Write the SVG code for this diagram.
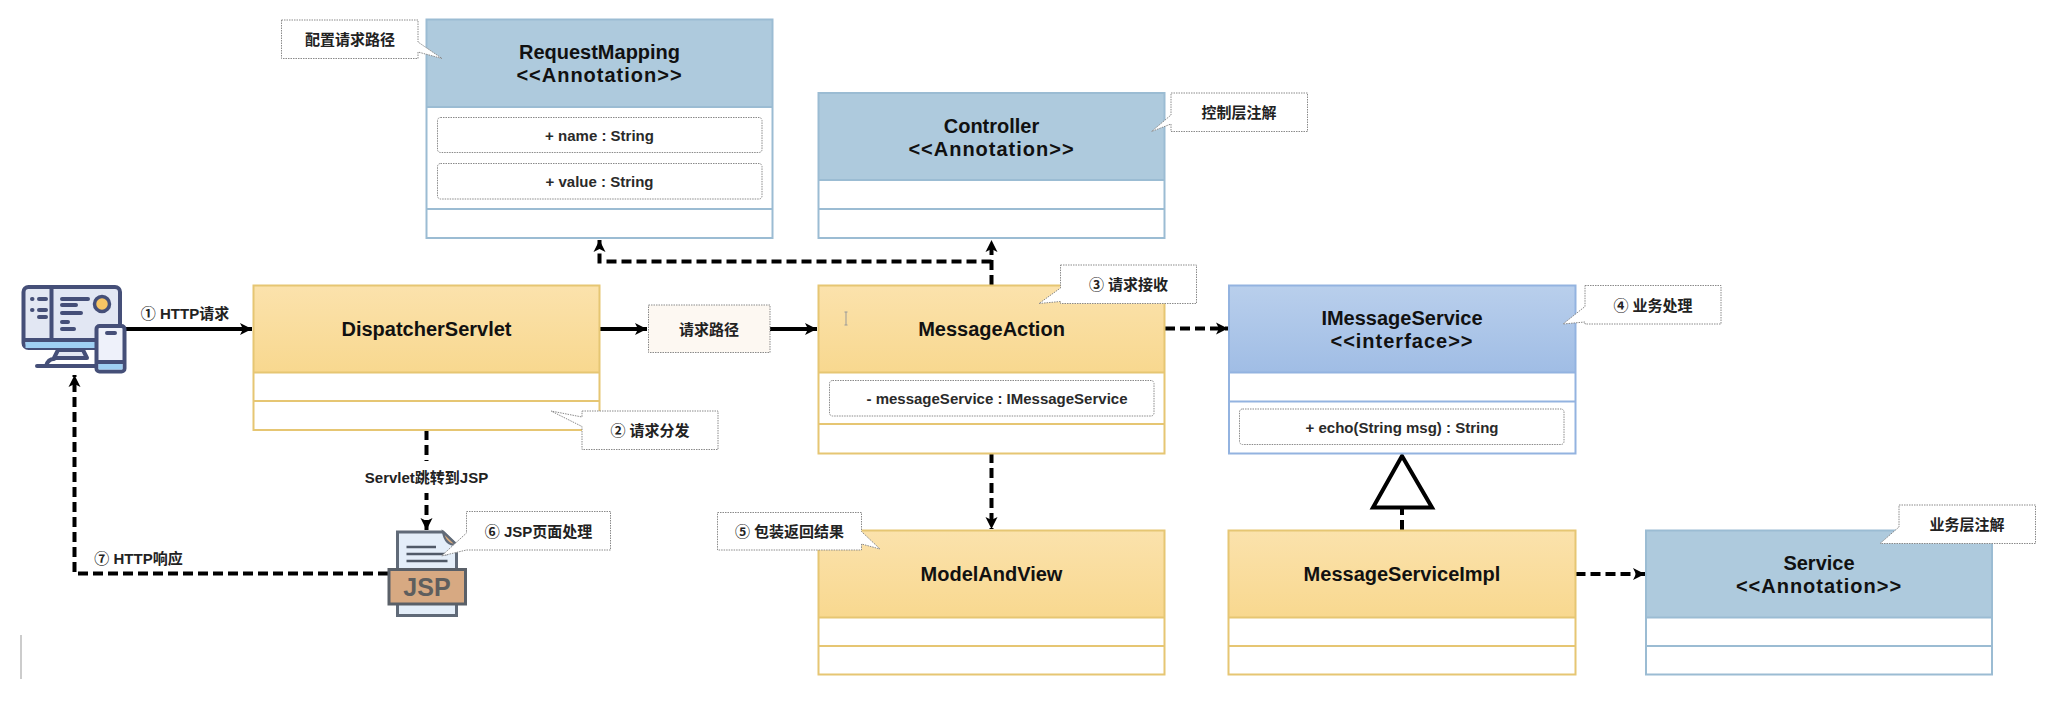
<svg xmlns="http://www.w3.org/2000/svg" width="2054" height="720" viewBox="0 0 2054 720">
<style>
text{font-family:"Liberation Sans","Noto Sans CJK SC",sans-serif;fill:#111;text-anchor:middle;dominant-baseline:central}
.title{font-size:20px;font-weight:700}
.st{letter-spacing:1px}
.attr{font-size:15px;font-weight:700;fill:#2a2a2a}
.lbl{font-size:15px;font-weight:700;fill:#222}
.body{fill:#fff}
.o{stroke:#e6c673}.b{stroke:#9bbcd3}.i{stroke:#93b3e0}
.box{stroke-width:2;fill:none}
.row{fill:#fff;stroke:#8a8a8a;stroke-width:1;stroke-dasharray:1.500 1}
.note{fill:#fff;stroke:#8a8a8a;stroke-width:1;stroke-dasharray:1.500 1}
.c{fill:none;stroke:#000;stroke-width:4}
.d{stroke-dasharray:10 5}
.ic{stroke:#454f78;stroke-width:4;stroke-linecap:round;stroke-linejoin:round}
.ln{fill:none;stroke:#454f78;stroke-width:4;stroke-linecap:round}
</style>
<defs>
<linearGradient id="go" x1="0" y1="0" x2="0" y2="1"><stop offset="0" stop-color="#fbe2ac"/><stop offset="1" stop-color="#f8d88f"/></linearGradient>
<linearGradient id="gi" x1="0" y1="0" x2="0" y2="1"><stop offset="0" stop-color="#b9cfec"/><stop offset="1" stop-color="#a0bde5"/></linearGradient>
<marker id="a" markerUnits="userSpaceOnUse" markerWidth="14" markerHeight="14" refX="12" refY="7" orient="auto"><path d="M0 1L12 7L0 13L3 7Z" fill="#000"/></marker>
</defs>
<rect width="2054" height="720" fill="#fff"/>
<g id="connectors">
<path class="c" d="M125 329H252" marker-end="url(#a)"/>
<path class="c" d="M600 329H647" marker-end="url(#a)"/>
<path class="c" d="M770 329H817" marker-end="url(#a)"/>
<path class="c d" d="M991.500 285V240" marker-end="url(#a)"/>
<path class="c d" d="M991.500 261.500H599.500V240" marker-end="url(#a)"/>
<path class="c d" d="M1165 328.500H1228" marker-end="url(#a)"/>
<path class="c d" d="M991.500 453V529" marker-end="url(#a)"/>
<path class="c d" d="M1402 530V508"/>
<path class="c d" d="M1575.500 574H1645" marker-end="url(#a)"/>
<path class="c d" d="M426.500 430V530" marker-end="url(#a)"/>
<path class="c d" d="M388 573.500H74.500V375" marker-end="url(#a)"/>
<path d="M1402 456L1432 507.500H1373Z" fill="#fff" stroke="#000" stroke-width="4"/>
</g>
<g id="label-http-request"><text class="lbl" x="185" y="313">① HTTP请求</text></g>
<g id="label-servlet-jsp"><rect x="358" y="461" width="137" height="32" fill="#fff"/><text class="lbl" x="426.500" y="477">Servlet跳转到JSP</text></g>
<g id="label-http-response"><text class="lbl" x="138.500" y="558">⑦ HTTP响应</text></g>

<g id="client">
<rect x="23.500" y="287" width="96.500" height="61" rx="5" fill="#e2e7f3" class="ic"/>
<rect x="25.500" y="340" width="92.500" height="8" fill="#9fd0f3"/>
<path class="ln" d="M51.500 288V340M25 340H118"/>
<path class="ic" d="M58 350L54 358H87L83 350Z" fill="#e2e7f3"/>
<path class="ln" d="M37 366H97M46 366Q48 359 54 359"/>
<path class="ln" d="M32 299H32.500M39 299H46M32 310H32.500M39 310H46M39 317H46M62 299H88M62 305H76M62 313H81M62 322H68M62 329H74"/>
<circle cx="102" cy="304" r="7.500" fill="#f7c564" stroke="#454f78" stroke-width="3.500"/>
<rect x="96.500" y="326" width="28" height="45.500" rx="3" fill="#eef1fa" class="ic"/>
<rect x="98.500" y="363" width="24" height="6.500" fill="#9fd0f3"/>
<path class="ln" d="M107 333H115M97 362H124"/>
</g>

<g id="DispatcherServlet">
<rect x="253.500" y="285.500" width="346" height="144.500" class="body"/>
<rect x="253.500" y="285.500" width="346" height="87" fill="url(#go)"/>
<path class="box o" d="M253.500 285.500H599.500V430H253.500ZM253.500 372.500H599.500M253.500 401H599.500"/>
<text class="title" x="426.500" y="329">DispatcherServlet</text>
</g>

<g id="request-path">
<rect x="648.500" y="305" width="121.500" height="47.500" fill="#fdf8f2" stroke="#8a8a8a" stroke-width="1" stroke-dasharray="1.500 1"/>
<text class="lbl" x="709" y="329">请求路径</text>
</g>

<g id="RequestMapping">
<rect x="426.500" y="19.500" width="346" height="218.500" class="body"/>
<rect x="426.500" y="19.500" width="346" height="87.500" fill="#aecadd"/>
<path class="box b" d="M426.500 19.500H772.500V238H426.500ZM426.500 107H772.500M426.500 209H772.500"/>
<text class="title" x="599.500" y="52">RequestMapping</text>
<text class="title st" x="599.500" y="75">&lt;&lt;Annotation&gt;&gt;</text>
<rect class="row" x="437.500" y="117.500" width="324.500" height="35" rx="3"/>
<text class="attr" x="599.500" y="135">+ name : String</text>
<rect class="row" x="437.500" y="163.500" width="324.500" height="35.500" rx="3"/>
<text class="attr" x="599.500" y="181">+ value : String</text>
</g>

<g id="Controller">
<rect x="818.500" y="93" width="346" height="145" class="body"/>
<rect x="818.500" y="93" width="346" height="87" fill="#aecadd"/>
<path class="box b" d="M818.500 93H1164.500V238H818.500ZM818.500 180H1164.500M818.500 209H1164.500"/>
<text class="title" x="991.500" y="125.500">Controller</text>
<text class="title st" x="991.500" y="149">&lt;&lt;Annotation&gt;&gt;</text>
</g>

<g id="MessageAction">
<rect x="818.500" y="285.500" width="346" height="168" class="body"/>
<rect x="818.500" y="285.500" width="346" height="87" fill="url(#go)"/>
<path class="box o" d="M818.500 285.500H1164.500V453.500H818.500ZM818.500 372.500H1164.500M818.500 424H1164.500"/>
<text class="title" x="991.500" y="329">MessageAction</text>
<rect class="row" x="829.500" y="380.500" width="324.500" height="35.500" rx="3"/>
<text class="attr" x="997" y="398">- messageService : IMessageService</text>
<path d="M844.500 312H847.500M846 312V325M844.500 325H847.500" fill="none" stroke="#999" stroke-width="1"/>
</g>

<g id="IMessageService">
<rect x="1229" y="285.500" width="346.500" height="168" class="body"/>
<rect x="1229" y="285.500" width="346.500" height="87" fill="url(#gi)"/>
<path class="box i" d="M1229 285.500H1575.500V453.500H1229ZM1229 372.500H1575.500M1229 401.500H1575.500"/>
<text class="title" x="1402" y="318">IMessageService</text>
<text class="title st" x="1402" y="341">&lt;&lt;interface&gt;&gt;</text>
<rect class="row" x="1239.500" y="409" width="324.500" height="35.500" rx="3"/>
<text class="attr" x="1402" y="427">+ echo(String msg) : String</text>
</g>

<g id="ModelAndView">
<rect x="818.500" y="530.500" width="346" height="144" class="body"/>
<rect x="818.500" y="530.500" width="346" height="87" fill="url(#go)"/>
<path class="box o" d="M818.500 530.500H1164.500V674.500H818.500ZM818.500 617.500H1164.500M818.500 646H1164.500"/>
<text class="title" x="991.500" y="574">ModelAndView</text>
</g>

<g id="MessageServiceImpl">
<rect x="1228.500" y="530.500" width="347" height="144" class="body"/>
<rect x="1228.500" y="530.500" width="347" height="87" fill="url(#go)"/>
<path class="box o" d="M1228.500 530.500H1575.500V674.500H1228.500ZM1228.500 617.500H1575.500M1228.500 646H1575.500"/>
<text class="title" x="1402" y="574">MessageServiceImpl</text>
</g>

<g id="Service">
<rect x="1646" y="530.500" width="346" height="144" class="body"/>
<rect x="1646" y="530.500" width="346" height="87" fill="#aecadd"/>
<path class="box b" d="M1646 530.500H1992V674.500H1646ZM1646 617.500H1992M1646 646H1992"/>
<text class="title" x="1819" y="563">Service</text>
<text class="title st" x="1819" y="586">&lt;&lt;Annotation&gt;&gt;</text>
</g>

<g id="rail"><path d="M21 635V679" stroke="#bbb" stroke-width="1.500" fill="none"/></g>

<g id="jsp-file">
<path d="M397.500 532H443L456.500 545V615.500H397.500Z" fill="#e4eef9" stroke="#606a78" stroke-width="3"/>
<path d="M443 532L456.500 545Q445 545 443 532Z" fill="#d9ac7e" stroke="#606a78" stroke-width="2"/>
<path d="M406.500 547H436M406.500 554H447.500M406.500 561H447.500" fill="none" stroke="#505a68" stroke-width="2.500"/>
<rect x="389" y="569.500" width="76.500" height="34.500" fill="#d7a982" stroke="#5a6068" stroke-width="3"/>
<text x="427" y="587" style="font-size:25px;font-weight:700;fill:#5e5e5e">JSP</text>
</g>

<g id="note-config"><path class="note" d="M281.500 20H418V42L442 58.500L418 52V58.500H281.500Z"/><text class="lbl" x="350" y="39">配置请求路径</text></g>
<g id="note-controller"><path class="note" d="M1171 93H1307.500V131.500H1171V124L1151.500 131.500L1171 115Z"/><text class="lbl" x="1239" y="112">控制层注解</text></g>
<g id="note-3"><path class="note" d="M1060.500 265H1196.500V303.500H1060.500V301.500L1039 303.500L1060.500 288Z"/><text class="lbl" x="1128.500" y="284">③ 请求接收</text></g>
<g id="note-4"><path class="note" d="M1585 285.500H1721V324H1585V322L1563 324L1585 306.500Z"/><text class="lbl" x="1653" y="305">④ 业务处理</text></g>
<g id="note-service"><path class="note" d="M1899 505H2035.500V543.500H1899L1880 543.500L1899 527Z"/><text class="lbl" x="1967" y="524">业务层注解</text></g>
<g id="note-2"><path class="note" d="M582 411H718V449.500H582V426.500L551 411L582 417Z"/><text class="lbl" x="650" y="430">② 请求分发</text></g>
<g id="note-6"><path class="note" d="M466.500 511.500H610.500V550H466.500L441.500 556L466.500 533Z"/><text class="lbl" x="538.500" y="531">⑥ JSP页面处理</text></g>
<g id="note-5"><path class="note" d="M717.500 512.500H861.500V531.500L880 549L861.500 544V550H717.500Z"/><text class="lbl" x="789.500" y="531.500">⑤ 包装返回结果</text></g>
</svg>
